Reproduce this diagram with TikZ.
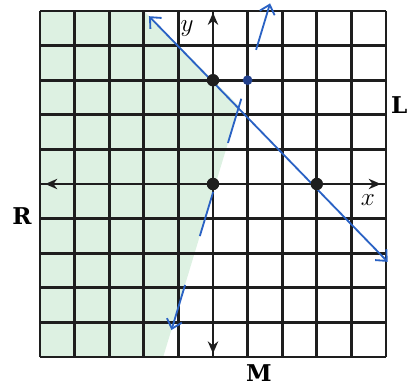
\documentclass[tikz,border=0pt]{standalone}
\usepackage{fontspec}
\newfontfamily\labfont{DejaVu Serif}
\usetikzlibrary{arrows.meta, positioning}
\definecolor{lineBlue}{HTML}{2A62C4}
\definecolor{dotBlue}{HTML}{22408C}
\definecolor{shadeGreen}{HTML}{DDF1E2}
\definecolor{inkBlack}{HTML}{1E1E1E}
\tikzset{
  gridLine/.style={inkBlack, line width=2.2pt},
  axisArrow/.style={{Stealth[length=3.5mm, width=3mm]}-{Stealth[length=3.5mm, width=3mm]},
                    inkBlack, line width=2.4pt},
  lineL/.style={{Straight Barb[length=2.5mm, width=4.5mm]}-{Straight Barb[length=2.5mm, width=4.5mm]},
                lineBlue, line width=1.5pt},
  lineM/.style={lineL, dash pattern=on 38pt off 42pt},
  dotK/.style={circle, fill=inkBlack, inner sep=0pt, minimum size=3.6mm},
  dotB/.style={circle, fill=dotBlue, inner sep=0pt, minimum size=2.8mm},
  labBig/.style={font=\labfont\bfseries\fontsize{19}{22}\selectfont, inner sep=0pt},
  labAxis/.style={font=\fontsize{22}{24}\selectfont, inner sep=0pt},
}
\begin{document}
\begin{tikzpicture}
  \useasboundingbox (-6.156,-5.925) rectangle (5.636,5.318);
  % region R
  \fill[shadeGreen] (-5,-5) -- (-1.44,-5) -- (0.755,2.25) -- (-2,5) -- (-5,5) -- cycle;
  \draw[gridLine] (-5,-5) grid (5,5);
  % axes
  \coordinate (xLeft) at (-4.85,0);
  \coordinate (xRight) at (4.85,0);
  \coordinate (yTop) at (0,4.95);
  \coordinate (yBot) at (0,-4.9);
  \draw[axisArrow] (xLeft) -- (xRight);
  \draw[axisArrow] (yBot) -- (yTop);
  % lines L and M
  \coordinate (lStart) at (-1.85,4.85);
  \coordinate (lEnd) at (5.05,-2.25);
  \coordinate (mStart) at (1.65,5.22);
  \coordinate (mEnd) at (-1.2,-4.22);
  \draw[lineL] (lStart) -- (lEnd);
  \draw[lineM] (mStart) -- (mEnd);
  % points
  \node[dotK] (origin) at (0,0) {};
  \node[dotK] (yInt) at (0,3) {};
  \node[dotK] (xInt) at (3,0) {};
  \node[dotB] (mPoint) at (1,3) {};
  % labels
  \node[labAxis] (labY) at (-0.75,4.5) {$y$};
  \node[labAxis] (labX) at (4.48,-0.46) {$x$};
  \node[labBig] (labL) at (5.38,2.28) {L};
  \node[labBig] (labR) at (-5.52,-0.92) {R};
  \node[labBig] (labM) at (1.33,-5.46) {M};
\end{tikzpicture}
\end{document}
